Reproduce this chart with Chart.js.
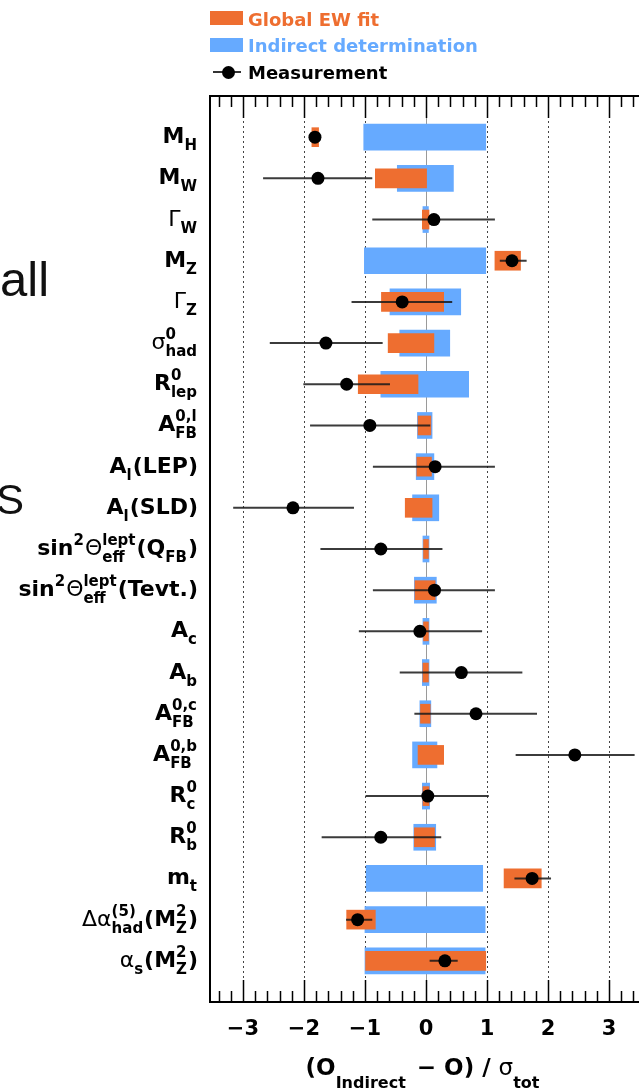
<!DOCTYPE html>
<html><head><meta charset="utf-8">
<script src="https://cdn.jsdelivr.net/npm/chart.js@4.4.1/dist/chart.umd.min.js"></script>
<style>
html,body{margin:0;padding:0;width:639px;height:1091px;overflow:hidden;background:#fff;}
#wrap{position:relative;width:639px;height:1091px;overflow:hidden;}
canvas{position:absolute;left:0;top:0;}
.t{position:absolute;white-space:nowrap;line-height:1;}
.leg{font-family:"DejaVu Sans";font-weight:bold;font-size:18px;}
.box{position:absolute;}
</style></head>
<body><div id="wrap">
<canvas id="c" width="680" height="1091" style="width:680px;height:1091px"></canvas>
<div class="t" style="left:0px;top:255px;font-family:'Liberation Sans';font-size:49px;line-height:1;color:#111">all</div>
<div class="t" style="left:-4px;top:479px;font-family:'Liberation Sans';font-size:42px;line-height:1;color:#111">S</div>
<div class="box" style="left:210px;top:11px;width:33px;height:14px;background:#ee6e30"></div>
<div class="t leg" style="left:248px;top:11px;color:#ee6e30">Global EW fit</div>
<div class="box" style="left:210px;top:38px;width:33px;height:14px;background:#66aaff"></div>
<div class="t leg" style="left:248px;top:37px;color:#66aaff">Indirect determination</div>
<div class="box" style="left:213px;top:71px;width:28px;height:2px;background:#333"></div>
<div class="box" style="left:222px;top:66px;width:13px;height:13px;border-radius:50%;background:#000"></div>
<div class="t leg" style="left:248px;top:64px;color:#000">Measurement</div>
</div>
<script>
// ---- data ----
const CATEGORIES = ['M_{H}','M_{W}','\u0393_{W}','M_{Z}','\u0393_{Z}','\u03c3^{0}_{had}','R^{0}_{lep}','A^{0,l}_{FB}',
  'A_{l}(LEP)','A_{l}(SLD)','sin^{2}\u0398^{lept}_{eff}(Q_{FB})','sin^{2}\u0398^{lept}_{eff}(Tevt.)','A_{c}','A_{b}',
  'A^{0,c}_{FB}','A^{0,b}_{FB}','R^{0}_{c}','R^{0}_{b}','m_{t}','\u0394\u03b1^{(5)}_{had}(M^{2}_{Z})','\u03b1_{s}(M^{2}_{Z})'];
const INDIRECT_LO = [-1.02,-0.47,-0.05,-1.01,-0.59,-0.43,-0.74,-0.14,-0.16,-0.22,-0.05,-0.19,-0.05,-0.06,-0.10,-0.22,-0.06,-0.20,-0.98,-1.00,-1.00];
const INDIRECT_HI = [ 0.98, 0.45, 0.04, 0.98, 0.57, 0.39, 0.70, 0.10, 0.13, 0.21, 0.05, 0.17, 0.05, 0.05, 0.08, 0.18, 0.06, 0.16, 0.93, 0.97, 0.97];
const FIT_LO = [-1.87,-0.83,-0.06, 1.13,-0.73,-0.62,-1.11,-0.13,-0.15,-0.34,-0.04,-0.18,-0.04,-0.05,-0.09,-0.13,-0.05,-0.19, 1.28,-1.30,-0.99];
const FIT_HI = [-1.76, 0.01, 0.05, 1.55, 0.29, 0.13,-0.13, 0.08, 0.09, 0.10, 0.04, 0.15, 0.04, 0.04, 0.07, 0.29, 0.05, 0.14, 1.89,-0.83, 0.98];
const MEAS    = [-1.82,-1.77, 0.13, 1.41,-0.39,-1.64,-1.30,-0.92, 0.15,-2.18,-0.74, 0.14,-0.10, 0.58, 0.82, 2.44, 0.03,-0.74, 1.74,-1.12, 0.31];
const MEAS_LO = [-1.86,-2.67,-0.88, 1.21,-1.22,-2.56,-2.01,-1.90,-0.87,-3.16,-1.73,-0.87,-1.10,-0.43,-0.19, 1.47,-0.99,-1.71, 1.45,-1.31, 0.06];
const MEAS_HI = [-1.78,-0.88, 1.13, 1.65, 0.43,-0.71,-0.59, 0.07, 1.13,-1.18, 0.27, 1.13, 0.92, 1.58, 1.82, 3.42, 1.03, 0.25, 2.05,-0.88, 0.52];
const X_TICKS = [-3,-2,-1,0,1,2,3];
const X_TITLE = '(O_{Indirect} \u2212 O) / \u03c3_{tot}';

const ORANGE = '#ee6e30', BLUE = '#66aaff';

// ---- rich text helpers ----
function parseRich(s){
  const items=[]; let i=0, buf='';
  const flush=()=>{ if(buf){ items.push({t:'m', s:buf}); buf=''; } };
  while(i<s.length){
    const c=s[i];
    if((c==='^'||c==='_') && s[i+1]==='{'){
      const j=s.indexOf('}', i+2);
      const txt=s.slice(i+2,j);
      flush();
      const key=c==='^'?'sup':'sub';
      const last=items[items.length-1];
      if(last && last.t==='s' && !last[key] && last.end===i){ last[key]=txt; last.end=j+1; }
      else { const it={t:'s', end:j+1}; it[key]=txt; items.push(it); }
      i=j+1;
    } else { buf+=c; i++; }
  }
  flush();
  return items;
}
const isGreek = ch => /[\u0370-\u03FF]/.test(ch);
function runsOf(str){
  const out=[]; let cur=null;
  for(const ch of str){
    const g=isGreek(ch);
    if(!cur || cur.g!==g){ cur={s:'',g}; out.push(cur); }
    cur.s+=ch;
  }
  return out;
}
function fontFor(g,size){ return (g?'':'bold ')+size+'px "DejaVu Sans"'; }
function runText(ctx,str,x,y,size,draw){
  let w=0;
  for(const r of runsOf(str)){
    ctx.font=fontFor(r.g,size);
    if(draw) ctx.fillText(r.s,x+w,y);
    w+=ctx.measureText(r.s).width;
  }
  return w;
}
function richText(ctx,str,x,y,st,align){
  const items=parseRich(str);
  const doIt=(x0,d)=>{
    let cx=x0;
    for(const it of items){
      if(it.t==='m'){ cx+=runText(ctx,it.s,cx,y,st.main,d); }
      else {
        let ws=0,wb=0;
        if(it.sup) ws=runText(ctx,it.sup,cx,y+st.supDy,st.script,d);
        if(it.sub) wb=runText(ctx,it.sub,cx,y+st.subDy,st.script,d);
        cx+=Math.max(ws,wb)+st.gap;
      }
    }
    return cx-x0;
  };
  const w=doIt(0,false);
  let x0=x;
  if(align==='right') x0=x-w; else if(align==='center') x0=x-w/2;
  doIt(x0,true);
  return w;
}

// ---- plugins ----
const gridPlugin={id:'grid', beforeDatasetsDraw(chart){
  const {ctx,chartArea:a,scales:{x}}=chart;
  ctx.save(); ctx.lineWidth=1;
  for(const v of X_TICKS){
    const px=Math.round(x.getPixelForValue(v))+0.5;
    ctx.beginPath();
    if(v===0){ ctx.setLineDash([]); ctx.strokeStyle='#9a9a9a'; }
    else { ctx.setLineDash([2,3]); ctx.strokeStyle='#444'; }
    ctx.moveTo(px,a.top); ctx.lineTo(px,a.bottom); ctx.stroke();
  }
  ctx.restore();
}};
const framePlugin={id:'frame', afterDraw(chart){
  const {ctx,chartArea:a,scales:{x,y}}=chart;
  ctx.save();
  ctx.strokeStyle='#000'; ctx.lineWidth=2; ctx.setLineDash([]);
  ctx.strokeRect(a.left,a.top,a.right-a.left,a.bottom-a.top);
  ctx.lineWidth=1.5;
  for(let k=-20;k<=25;k++){
    const v=k/5;
    if(v<x.min||v>x.max) continue;
    const px=Math.round(x.getPixelForValue(v))+0.5;
    const len=(k%5===0)?22:11;
    ctx.beginPath();
    ctx.moveTo(px,a.bottom); ctx.lineTo(px,a.bottom-len);
    ctx.moveTo(px,a.top); ctx.lineTo(px,a.top+len);
    ctx.stroke();
  }
  ctx.fillStyle='#000'; ctx.textBaseline='alphabetic';
  const st={main:22,script:15,supDy:-10,subDy:7,gap:1};
  CATEGORIES.forEach((lab,i)=>{
    const py=y.getPixelForValue(i+1);
    richText(ctx,lab,198,py+6,st,'right');
  });
  const ts={main:23,script:16,supDy:-10,subDy:13,gap:3};
  richText(ctx,X_TITLE,424,1075,ts,'center');
  ctx.restore();
}};

const errData=[];
MEAS_LO.forEach((lo,i)=>{ errData.push({x:lo,y:i+1},{x:MEAS_HI[i],y:i+1},{x:null,y:null}); });

new Chart(document.getElementById('c'),{
  type:'bar',
  data:{datasets:[
    {type:'scatter',label:'Measurement',data:MEAS.map((v,i)=>({x:v,y:i+1})),pointRadius:6.5,pointBackgroundColor:'#000',pointBorderWidth:0,order:0},
    {type:'line',label:'err',data:errData,borderColor:'rgba(25,25,25,0.85)',borderWidth:2,pointRadius:0,spanGaps:false,order:1},
    {type:'bar',label:'Global EW fit',indexAxis:'y',data:FIT_LO.map((v,i)=>({y:i+1,x:[v,FIT_HI[i]]})),backgroundColor:ORANGE,barThickness:19,grouped:false,order:2},
    {type:'bar',label:'Indirect determination',indexAxis:'y',data:INDIRECT_LO.map((v,i)=>({y:i+1,x:[v,INDIRECT_HI[i]]})),backgroundColor:BLUE,barThickness:26,grouped:false,order:3}
  ]},
  options:{responsive:false,animation:false,events:[],
    layout:{padding:{left:210,top:96,right:10,bottom:0}},
    plugins:{legend:{display:false},tooltip:{enabled:false}},
    scales:{
      x:{type:'linear',min:-3.54,max:4,offset:false,grid:{display:false,drawTicks:false},border:{display:false},
        afterBuildTicks:s=>{s.ticks=X_TICKS.map(v=>({value:v}));},
        afterFit:s=>{s.height=89;},
        ticks:{font:{family:'DejaVu Sans',weight:'bold',size:21},color:'#000',padding:15,maxRotation:0,autoSkip:false,
          callback:v=>v<0?'\u2212'+Math.abs(v):String(v)}},
      y:{type:'linear',min:0,max:22,reverse:true,offset:false,display:false}
    }
  },
  plugins:[gridPlugin,framePlugin]
});
</script>
</body></html>
